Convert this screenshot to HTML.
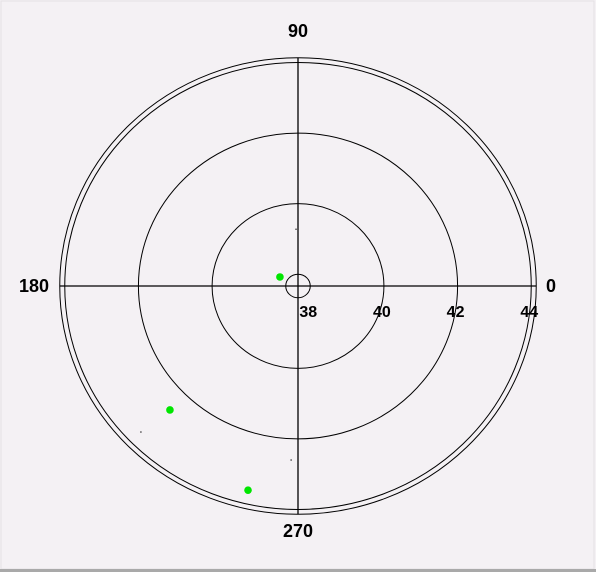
<!DOCTYPE html>
<html><head><meta charset="utf-8"><style>
html,body{margin:0;padding:0;background:#fff}
svg{display:block}
text{font-family:"Liberation Sans",sans-serif;font-weight:bold;fill:#000}
</style></head><body>
<svg id="chart" width="596" height="572" viewBox="0 0 596 572">
<rect x="0" y="0" width="596" height="572" fill="#f4f1f4"/>
<rect x="1" y="1" width="593" height="568" fill="none" stroke="#e4e1e4"/>
<rect x="0" y="569" width="596" height="3" fill="#a9a9a9"/>
<g id="grid"></g>
<g id="marks"></g>
</svg>
<script>
const ringValues = [38, 40, 42, 44];
const ringLabels = ["38", "40", "42", "44"];
const angleLabels = ["0", "90", "180", "270"];
const angleValues = [0, 90, 180, 270];
const pointAngles = [152.5, 225.3, 256.8];
const pointRadii = [38.22, 42.61, 43.61];
const dotAngles = [224.1, 267.8, 92];
const dotRadii = [43.61, 42.6, 39.28];

const NS = "http://www.w3.org/2000/svg";
const cx = 298, cy = 286, rMin = 37.667, pxPerUnit = 36.83, yScale = 0.958;
function rScale(v){ return (v - rMin) * pxPerUnit; }
function pos(angle, v){
  const r = rScale(v), a = angle * Math.PI / 180;
  return [cx + r * Math.cos(a), cy - r * yScale * Math.sin(a)];
}
function mk(tag, attrs, parent){
  const e = document.createElementNS(NS, tag);
  for (const k in attrs) e.setAttribute(k, attrs[k]);
  parent.appendChild(e); return e;
}
const grid = document.getElementById("grid");
const marks = document.getElementById("marks");

const outerR = rScale(44) + 5;
let hl = mk("line", {x1: cx - outerR, y1: cy, x2: cx + outerR, y2: cy, stroke: "#000", "stroke-width": 1.3}, grid);


let vl = mk("line", {x1: cx, y1: cy - outerR * yScale, x2: cx, y2: cy + outerR * yScale, stroke: "#000", "stroke-width": 1.3}, grid);



ringValues.forEach((v, i) => {
  const r = rScale(v);
  const c = mk("ellipse", {cx: cx, cy: cy, rx: r, ry: r * yScale, fill: "none", stroke: "#000", "stroke-width": 1}, grid);
  
  
  const t = mk("text", {x: cx + r - 2, y: cy + 31, "font-size": 16, "text-anchor": "middle"}, grid);
  t.textContent = ringLabels[i];
  
  
});
const ob = mk("ellipse", {cx: cx, cy: cy, rx: outerR, ry: outerR * yScale, fill: "none", stroke: "#000", "stroke-width": 1}, grid);



const angPos = {0: [551, 292, "middle"], 90: [298, 37, "middle"], 180: [34, 292, "middle"], 270: [298, 537, "middle"]};
angleValues.forEach((a, i) => {
  const p = angPos[a];
  const t = mk("text", {x: p[0], y: p[1], "font-size": 18, "text-anchor": p[2]}, grid);
  t.textContent = angleLabels[i];
  
  
});

pointAngles.forEach((a, i) => {
  const [x, y] = pos(a, pointRadii[i]);
  const c = mk("circle", {cx: x, cy: y, r: 3.8, fill: "#00e600"}, marks);
  
  
});
dotAngles.forEach((a, i) => {
  const [x, y] = pos(a, dotRadii[i]);
  const c = mk("rect", {x: x - 0.5, y: y - 0.5, width: 1.2, height: 1.2, fill: "#000"}, marks);
  
  
});
</script>
</body></html>
